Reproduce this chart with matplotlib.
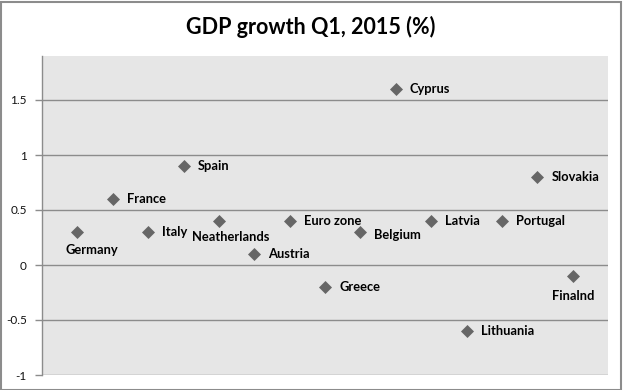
import matplotlib
matplotlib.use("Agg")
import matplotlib.pyplot as plt

countries = ["Germany", "France", "Italy", "Spain", "Neatherlands", "Austria",
             "Euro zone", "Greece", "Belgium", "Cyprus", "Latvia", "Lithuania",
             "Portugal", "Slovakia", "Finalnd"]
growth = [0.3, 0.6, 0.3, 0.9, 0.4, 0.1, 0.4, -0.2, 0.3, 1.6, 0.4, -0.6, 0.4, 0.8, -0.1]
yticks = [-1, -0.5, 0, 0.5, 1, 1.5]
ytick_labels = ["-1", "-0.5", "0", "0.5", "1", "1.5"]
title = "GDP growth Q1, 2015 (%)"

# label placement (offset pixels, alignment)
right = ((14, 0), "left", "center")
label_pos = {
    "Germany": ((14, -18), "center", "center"),
    "Neatherlands": ((12, -16), "center", "center"),
    "Finalnd": ((1, -20), "center", "center"),
    "Belgium": ((14, -3), "left", "center"),
}

fig = plt.figure(figsize=(6.23, 3.90), dpi=100)
W, H = 623, 390
ax = fig.add_axes([42 / W, 1 - 375 / H, (608 - 42) / W, (375 - 56) / H])
ax.set_facecolor("#e6e6e6")

xs = list(range(1, len(countries) + 1))
ax.scatter(xs, growth, marker="D", s=44, color="#666666", zorder=3, linewidths=0)

for x, y, name in zip(xs, growth, countries):
    (dx, dy), ha, va = label_pos.get(name, right)
    ax.annotate(name, (x, y), xytext=(dx, dy), textcoords="offset pixels",
                ha=ha, va=va, fontsize=9.3, fontweight="bold", family="Lato",
                color="#000000", zorder=4)

ax.set_xlim(0, 16)
ax.set_ylim(-1, 1.9)
ax.set_xticks([])
ax.set_yticks(yticks)
ax.set_yticklabels(ytick_labels, family="Lato", fontsize=8.5, color="#111111")
ax.yaxis.grid(True, color="#8c8c8c", linewidth=1.0)
ax.set_axisbelow(True)
ax.tick_params(axis="y", length=5, color="#8c8c8c", width=1, pad=6)
for s in ["top", "right", "bottom"]:
    ax.spines[s].set_visible(False)
ax.spines["left"].set_color("#8c8c8c")
ax.spines["left"].set_linewidth(1.0)

fig.text(311 / W, 1 - 27 / H, title, ha="center", va="center",
         fontsize=15.5, fontweight="bold", family="Lato", color="#000000")

# outer chart border
border = plt.Rectangle((0.5 / W, 0.5 / H), (W - 3) / W, (H - 2) / H,
                       transform=fig.transFigure, fill=False,
                       edgecolor="#8c8c8c", linewidth=1.5)
fig.patches.append(border)

fig.savefig("out.png", dpi=100, facecolor="white")
